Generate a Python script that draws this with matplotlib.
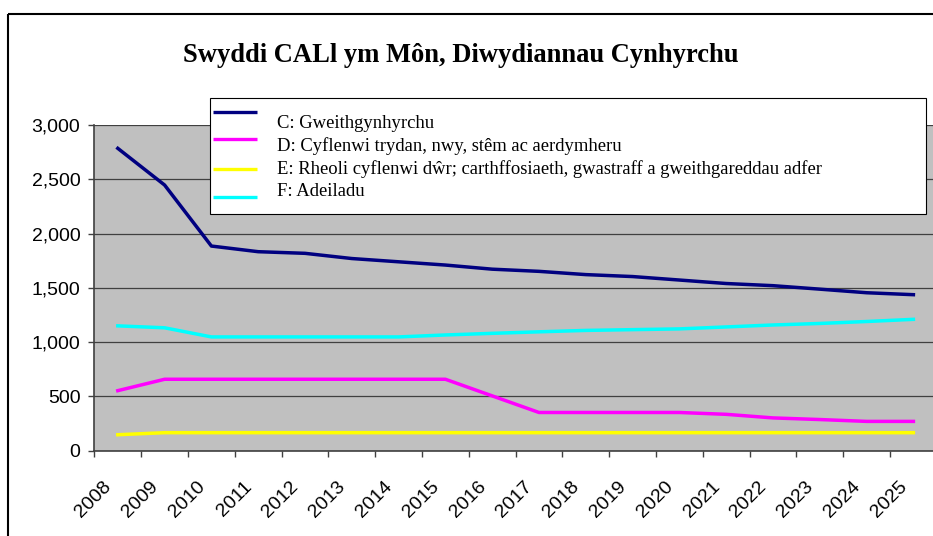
import matplotlib
matplotlib.use('Agg')
import matplotlib.pyplot as plt
import numpy as np
from matplotlib.lines import Line2D
from matplotlib.patches import Rectangle
from matplotlib.transforms import Affine2D, ScaledTranslation

title = 'Swyddi CALl ym Môn, Diwydiannau Cynhyrchu'
years = [str(y) for y in range(2008, 2026)]
y_ticks = [0, 500, 1000, 1500, 2000, 2500, 3000]

labels = [
    'C: Gweithgynhyrchu',
    'D: Cyflenwi trydan, nwy, stêm ac aerdymheru',
    'E: Rheoli cyflenwi dŵr; carthffosiaeth, gwastraff a gweithgareddau adfer',
    'F: Adeiladu',
]
c_manuf = [2785, 2447, 1885, 1833, 1818, 1770, 1740, 1710, 1672, 1652, 1622, 1604, 1572, 1540, 1520, 1488, 1455, 1437]
d_energy = [553, 658, 658, 658, 658, 658, 658, 658, 505, 352, 352, 352, 352, 335, 302, 287, 270, 270]
e_water = [147, 166, 166, 166, 166, 166, 166, 166, 166, 166, 166, 166, 166, 166, 166, 166, 166, 166]
f_constr = [1150, 1132, 1048, 1048, 1048, 1048, 1048, 1066, 1081, 1095, 1108, 1115, 1122, 1140, 1158, 1172, 1190, 1210]
series = [c_manuf, d_energy, e_water, f_constr]
colors = ['#000080', '#ff00ff', '#ffff00', '#00ffff']

W, H = 933, 536
fig = plt.figure(figsize=(W / 100, H / 100), dpi=100)
px = Affine2D().scale(1 / W, -1 / H).translate(0, 1) + fig.transFigure

# outer chart frame (runs off the right and bottom of the image)
fig.add_artist(Rectangle((8, 13.7), 960, 560, transform=px, fill=False,
                         edgecolor='black', lw=1.5, zorder=0.5))

ax = fig.add_axes([94.4 / W, (H - 450.7) / H, (936.8 - 94.4) / W, (450.7 - 125) / H])
ax.set_facecolor('#c0c0c0')
x = np.arange(len(years)) + 0.5
for vals, col in zip(series, colors):
    ax.plot(x, vals, color=col, lw=2.5, zorder=3)

ax.set_xlim(0, len(years))
ax.set_ylim(0, 3000)
ax.set_yticks(y_ticks)
ax.set_yticklabels([f'{v:,}' for v in y_ticks], fontfamily='Liberation Sans')
ax.grid(axis='y', color='#404040', lw=0.9)
ax.set_axisbelow(True)
for s in ['top', 'right']:
    ax.spines[s].set_visible(False)
for s in ['left', 'bottom']:
    ax.spines[s].set_color('#404040')
    ax.spines[s].set_linewidth(1.2)

ax.set_xticks(np.arange(len(years) + 1), minor=True)
ax.set_xticks(x)
ax.set_xticklabels(years, rotation=45, ha='right', va='center',
                   rotation_mode='anchor', fontfamily='Liberation Sans')
ax.tick_params(axis='x', which='major', length=0, pad=23.8, labelsize=14)
ax.tick_params(axis='x', which='minor', length=4.3, color='#404040', width=1)
ax.tick_params(axis='y', length=4.6, pad=5.5, color='#404040', width=1, labelsize=14)
offset = ScaledTranslation(-9 / 100, 0, fig.dpi_scale_trans)
for lab in ax.get_xticklabels():
    lab.set_transform(lab.get_transform() + offset)

fig.text(460.4, 61.7, title, transform=px, ha='center', va='baseline',
         fontfamily='Liberation Serif', fontweight='bold', fontsize=19.1)

# legend box, drawn by hand to keep the offset between keys and labels
fig.add_artist(Rectangle((209.5, 97.5), 716, 116.5, transform=px,
                         facecolor='white', edgecolor='black', lw=0.8, zorder=4))
key_y = [112.3, 139.3, 169, 196.7]
text_y = [128.5, 151, 173.5, 196]
for lab, col, ky, ty in zip(labels, colors, key_y, text_y):
    fig.add_artist(Line2D([213, 256.7], [ky, ky], transform=px, color=col,
                          lw=2.4, solid_capstyle='butt', zorder=5))
    fig.text(276.7, ty, lab, transform=px, ha='left', va='baseline',
             fontfamily='Liberation Serif', fontsize=13.4, zorder=5)

fig.savefig('out.png', dpi=100)
